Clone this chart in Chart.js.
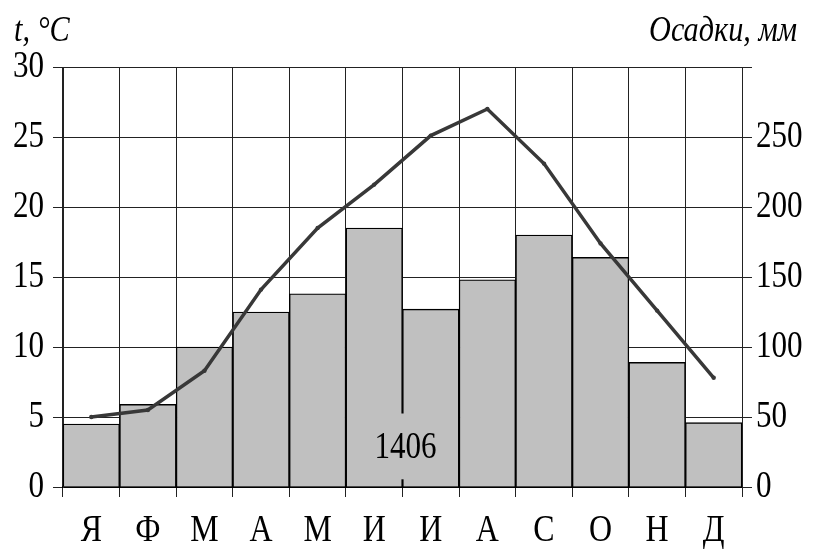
<!DOCTYPE html>
<html>
<head>
<meta charset="utf-8">
<script src="https://cdn.jsdelivr.net/npm/chart.js@4/dist/chart.umd.min.js"></script>
<style>
html,body{margin:0;padding:0;background:#fff;}
canvas{display:block;}
</style>
</head>
<body>
<canvas id="c" width="815" height="556"></canvas>
<script>
// ---- data ----
const months = ['Я','Ф','М','А','М','И','И','А','С','О','Н','Д'];
const precipitation = [45, 59, 100, 125, 138, 185, 127, 148, 180, 164, 89, 46]; // mm
const temperature = [5.0, 5.5, 8.3, 14.1, 18.5, 21.6, 25.1, 27.0, 23.1, 17.4, 12.6, 7.8]; // °C
const tempTicks = [0, 5, 10, 15, 20, 25, 30];
const precipTicks = [0, 50, 100, 150, 200, 250, 300];
const annualTotal = '1406';
const leftTitle = 't, °C';
const rightTitle = 'Осадки, мм';

// horizontally condensed text (reference uses narrow serif type)
const origFill = CanvasRenderingContext2D.prototype.fillText;
CanvasRenderingContext2D.prototype.fillText = function(t, x, y, mw) {
  const sx = 0.84;
  this.save();
  this.translate(x, y);
  this.scale(sx, 1);
  if (mw !== undefined) origFill.call(this, t, 0, 0, mw / sx);
  else origFill.call(this, t, 0, 0);
  this.restore();
};

const FONT = '"Liberation Serif", "Times New Roman", serif';

const extras = {
  id: 'extras',
  afterDatasetsDraw(chart) {
    const ctx = chart.ctx;
    const xs = chart.scales.x, y1 = chart.scales.y1;
    // label for annual total sitting on the Jun/Jul boundary
    const xb = (xs.getPixelForValue(5) + xs.getPixelForValue(6)) / 2;
    const yTop = y1.getPixelForValue(52.5), yBot = y1.getPixelForValue(5.5);
    ctx.save();
    ctx.fillStyle = '#c0c0c0';
    ctx.fillRect(xb - 4, yTop, 8, yBot - yTop);
    ctx.fillStyle = '#000';
    ctx.font = '37px ' + FONT;
    ctx.textAlign = 'center';
    ctx.textBaseline = 'middle';
    ctx.fillText(annualTotal, xb + 3, y1.getPixelForValue(27.5));
    ctx.restore();
  },
  afterDraw(chart) {
    const ctx = chart.ctx;
    ctx.save();
    ctx.fillStyle = '#000';
    ctx.font = 'italic 36px ' + FONT;
    ctx.textBaseline = 'middle';
    ctx.textAlign = 'left';
    ctx.fillText(leftTitle, 14, 32);
    ctx.textAlign = 'right';
    ctx.fillText(rightTitle, 797, 32);
    ctx.restore();
  }
};

new Chart(document.getElementById('c'), {
  data: {
    labels: months,
    datasets: [
      {
        type: 'line',
        data: temperature,
        yAxisID: 'y',
        borderColor: '#383838',
        backgroundColor: '#383838',
        borderWidth: 3.5,
        pointRadius: 2.2,
        pointBorderWidth: 0,
        tension: 0,
        order: 0
      },
      {
        type: 'bar',
        data: precipitation,
        yAxisID: 'y1',
        backgroundColor: '#c0c0c0',
        borderColor: '#000',
        borderWidth: 1.4,
        barPercentage: 1,
        categoryPercentage: 1,
        order: 1
      }
    ]
  },
  options: {
    responsive: false,
    animation: false,
    events: [],
    layout: { padding: { top: 67, left: 0, right: 0, bottom: 0 } },
    plugins: { legend: { display: false }, tooltip: { enabled: false } },
    scales: {
      x: {
        offset: true,
        grid: { offset: true, color: '#222', lineWidth: 1, tickLength: 10, drawTicks: true },
        border: { color: '#000', width: 2 },
        ticks: { color: '#000', font: { family: FONT, size: 38 }, padding: 11, maxRotation: 0, autoSkip: false },
        afterFit(s) { s.height = 69; }
      },
      y: {
        position: 'left',
        min: 0, max: 30,
        afterBuildTicks(s) { s.ticks = tempTicks.map(v => ({ value: v })); },
        grid: { color: '#222', lineWidth: 1, tickLength: 10 },
        border: { color: '#222', width: 1 },
        ticks: { color: '#000', font: { family: FONT, size: 37 }, padding: 9 },
        afterFit(s) { s.width = 63; }
      },
      y1: {
        position: 'right',
        min: 0, max: 300,
        afterBuildTicks(s) { s.ticks = precipTicks.map(v => ({ value: v })); },
        grid: { drawOnChartArea: false, color: '#222', lineWidth: 1, tickLength: 10 },
        border: { color: '#222', width: 1 },
        ticks: {
          color: '#000', font: { family: FONT, size: 37 }, padding: 4,
          callback: v => (v === 300 ? '' : String(v))
        },
        afterFit(s) { s.width = 73; }
      }
    }
  },
  plugins: [extras]
});
</script>
</body>
</html>
